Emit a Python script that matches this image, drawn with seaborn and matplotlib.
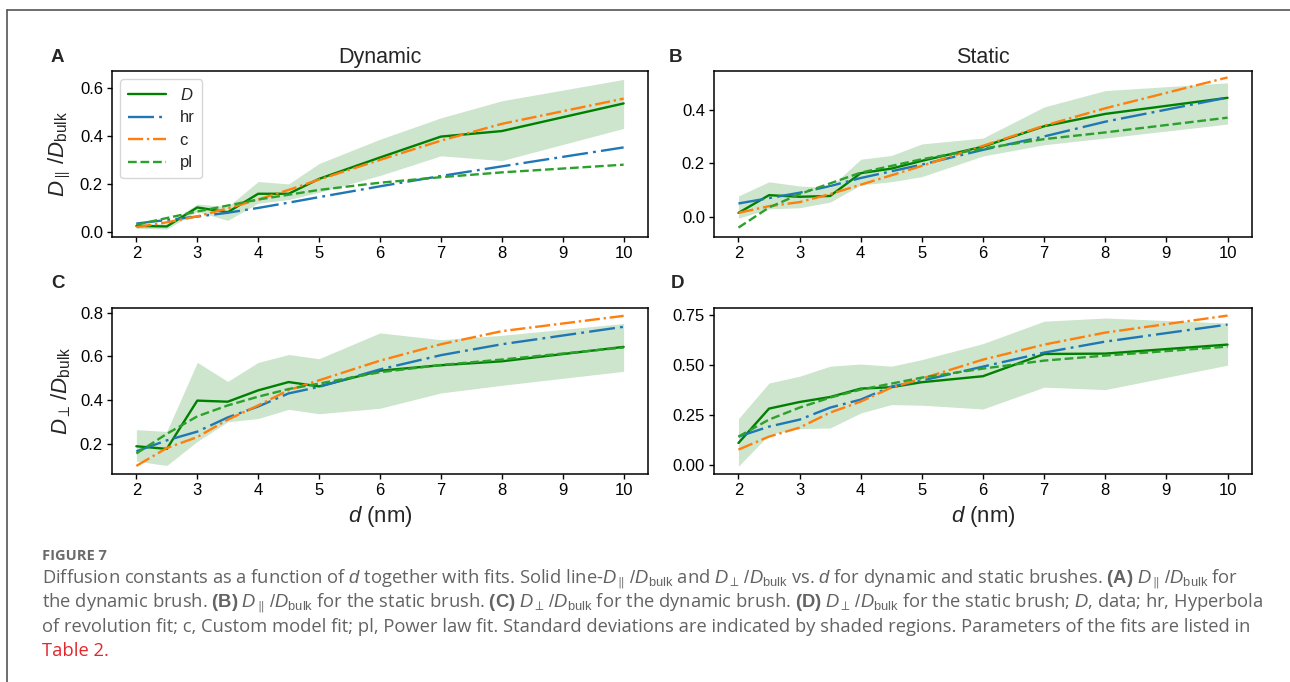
import matplotlib
matplotlib.use("Agg")
import matplotlib.pyplot as plt
from matplotlib.lines import Line2D
import seaborn as sns
import numpy as np

# ---------------- data ----------------
d_nm = [2, 2.5, 3, 3.5, 4, 4.5, 5, 6, 7, 8, 10]

# (A) dynamic, parallel
A_D = [0.025, 0.023, 0.102, 0.082, 0.159, 0.159, 0.221, 0.31, 0.397, 0.42, 0.535]
A_lo = [0.015, 0.012, 0.085, 0.048, 0.12, 0.135, 0.165, 0.235, 0.317, 0.297, 0.431]
A_hi = [0.035, 0.034, 0.116, 0.105, 0.21, 0.2, 0.285, 0.386, 0.475, 0.546, 0.635]
A_hr = [0.035, 0.05, 0.064, 0.08, 0.10, 0.122, 0.145, 0.19, 0.233, 0.273, 0.352]
A_c = [0.02, 0.04, 0.065, 0.098, 0.135, 0.175, 0.218, 0.30, 0.38, 0.45, 0.555]
A_pl = [0.03, 0.058, 0.085, 0.11, 0.135, 0.155, 0.175, 0.205, 0.228, 0.248, 0.28]

# (B) static, parallel
B_D = [0.015, 0.081, 0.075, 0.078, 0.163, 0.18, 0.209, 0.262, 0.338, 0.384, 0.444]
B_lo = [-0.005, 0.03, 0.034, 0.055, 0.119, 0.131, 0.15, 0.227, 0.269, 0.294, 0.346]
B_hi = [0.078, 0.131, 0.115, 0.11, 0.215, 0.229, 0.272, 0.294, 0.41, 0.471, 0.50]
B_hr = [0.05, 0.07, 0.09, 0.115, 0.145, 0.17, 0.195, 0.25, 0.30, 0.355, 0.445]
B_c = [0.015, 0.04, 0.055, 0.085, 0.12, 0.155, 0.19, 0.265, 0.34, 0.405, 0.52]
B_pl = [-0.04, 0.035, 0.085, 0.125, 0.165, 0.19, 0.215, 0.255, 0.29, 0.315, 0.37]

# (C) dynamic, perpendicular
C_D = [0.188, 0.176, 0.397, 0.392, 0.444, 0.482, 0.462, 0.534, 0.559, 0.577, 0.643]
C_lo = [0.12, 0.10, 0.21, 0.30, 0.315, 0.357, 0.337, 0.362, 0.432, 0.467, 0.531]
C_hi = [0.264, 0.256, 0.572, 0.485, 0.572, 0.608, 0.589, 0.707, 0.676, 0.696, 0.75]
C_hr = [0.165, 0.215, 0.255, 0.32, 0.37, 0.43, 0.46, 0.54, 0.605, 0.655, 0.735]
C_c = [0.098, 0.18, 0.23, 0.31, 0.375, 0.445, 0.49, 0.58, 0.655, 0.715, 0.785]
C_pl = [0.155, 0.245, 0.325, 0.375, 0.415, 0.45, 0.475, 0.527, 0.56, 0.585, 0.64]

# (D) static, perpendicular
D_D = [0.108, 0.28, 0.313, 0.338, 0.38, 0.387, 0.412, 0.442, 0.553, 0.555, 0.60]
D_lo = [-0.008, 0.15, 0.18, 0.183, 0.258, 0.30, 0.297, 0.278, 0.387, 0.375, 0.497]
D_hi = [0.23, 0.408, 0.442, 0.492, 0.503, 0.492, 0.525, 0.605, 0.717, 0.733, 0.708]
D_hr = [0.14, 0.19, 0.225, 0.285, 0.325, 0.39, 0.42, 0.49, 0.56, 0.615, 0.70]
D_c = [0.075, 0.14, 0.185, 0.26, 0.315, 0.385, 0.43, 0.525, 0.6, 0.66, 0.745]
D_pl = [0.14, 0.225, 0.285, 0.335, 0.375, 0.405, 0.435, 0.48, 0.52, 0.545, 0.59]

x_ticks = [2, 3, 4, 5, 6, 7, 8, 9, 10]
A_yticks = [0.0, 0.2, 0.4, 0.6]
B_yticks = [0.0, 0.2, 0.4]
C_yticks = [0.2, 0.4, 0.6, 0.8]
D_yticks = [0.00, 0.25, 0.50, 0.75]

legend_labels = ["$D$", "hr", "c", "pl"]
panel_letters = ["A", "B", "C", "D"]
col_titles = ["Dynamic", "Static"]
ylabel_par = r"$D_{\parallel}\,/D_{\mathrm{bulk}}$"
ylabel_perp = r"$D_{\perp}\,/D_{\mathrm{bulk}}$"
xlabel = r"$d$ (nm)"

caption_head = "FIGURE 7"
caption_lines = [
    r"Diffusion constants as a function of $d$ together with fits. Solid line-$D_{\parallel}\,/D_{\mathrm{bulk}}$ and $D_{\perp}\,/D_{\mathrm{bulk}}$ vs. $d$ for dynamic and static brushes. $\mathbf{(A)}$ $D_{\parallel}\,/D_{\mathrm{bulk}}$ for",
    r"the dynamic brush. $\mathbf{(B)}$ $D_{\parallel}\,/D_{\mathrm{bulk}}$ for the static brush. $\mathbf{(C)}$ $D_{\perp}\,/D_{\mathrm{bulk}}$ for the dynamic brush. $\mathbf{(D)}$ $D_{\perp}\,/D_{\mathrm{bulk}}$ for the static brush; $D$, data; hr, Hyperbola",
    r"of revolution fit; c, Custom model fit; pl, Power law fit. Standard deviations are indicated by shaded regions. Parameters of the fits are listed in",
]
caption_link = "Table 2."

# ---------------- style ----------------
sns.set_style("ticks")
plt.rcParams["font.family"] = ["Liberation Sans", "DejaVu Sans"]
plt.rcParams["mathtext.fontset"] = "custom"
plt.rcParams["mathtext.rm"] = "Liberation Sans"
plt.rcParams["mathtext.it"] = "Liberation Sans:italic"
plt.rcParams["mathtext.bf"] = "Liberation Sans:bold"
plt.rcParams["axes.edgecolor"] = "black"
plt.rcParams["axes.linewidth"] = 1.1
plt.rcParams["xtick.color"] = "black"
plt.rcParams["ytick.color"] = "black"
plt.rcParams["xtick.major.size"] = 3.5
plt.rcParams["ytick.major.size"] = 3.5
plt.rcParams["xtick.major.width"] = 1.0
plt.rcParams["ytick.major.width"] = 1.0

W, H = 1290, 682
fig = plt.figure(figsize=(W / 100, H / 100), dpi=100)


def rect(l, t, r, b):
    return [l / W, 1 - b / H, (r - l) / W, (b - t) / H]


axA = fig.add_axes(rect(112, 71, 648, 237))
axB = fig.add_axes(rect(714, 71, 1252, 237))
axC = fig.add_axes(rect(112, 308, 648, 474))
axD = fig.add_axes(rect(714, 308, 1252, 474))

panels = [
    (axA, A_D, A_lo, A_hi, A_hr, A_c, A_pl, A_yticks, (-0.021, 0.67)),
    (axB, B_D, B_lo, B_hi, B_hr, B_c, B_pl, B_yticks, (-0.075, 0.544)),
    (axC, C_D, C_lo, C_hi, C_hr, C_c, C_pl, C_yticks, (0.061, 0.821)),
    (axD, D_D, D_lo, D_hi, D_hr, D_c, D_pl, D_yticks, (-0.047, 0.783)),
]

lw = 1.7
for ax, yD, ylo, yhi, yhr, yc, ypl, yt, ylim in panels:
    ax.fill_between(d_nm, ylo, yhi, color="green", alpha=0.2, linewidth=0)
    sns.lineplot(x=d_nm, y=yD, ax=ax, color="green", lw=lw, linestyle="-",
                 errorbar=None, label=legend_labels[0])
    sns.lineplot(x=d_nm, y=yhr, ax=ax, color="#1f77b4", lw=lw,
                 linestyle=(0, (11, 2.2, 1.2, 2.2)), errorbar=None,
                 label=legend_labels[1])
    sns.lineplot(x=d_nm, y=yc, ax=ax, color="#ff7f0e", lw=lw, linestyle="-.",
                 errorbar=None, label=legend_labels[2])
    sns.lineplot(x=d_nm, y=ypl, ax=ax, color="#2ca02c", lw=lw, linestyle="--",
                 errorbar=None, label=legend_labels[3])
    ax.set_xlim(1.6, 10.4)
    ax.set_ylim(*ylim)
    ax.set_xticks(x_ticks)
    ax.set_yticks(yt)
    if ax is axD:
        ax.set_yticklabels([f"{v:.2f}" for v in yt])
    else:
        ax.set_yticklabels([f"{v:.1f}" for v in yt])
    ax.tick_params(labelsize=12, pad=3)
    ax.set_xlabel("")
    ax.set_ylabel("")
    for s in ax.spines.values():
        s.set_visible(True)
        s.set_color("black")
    leg = ax.get_legend()
    if leg is not None:
        leg.remove()

axA.legend(loc="upper left", fontsize=12, handlelength=2.3,
           labelspacing=0.45, borderpad=0.45, frameon=True, framealpha=0.8,
           edgecolor="0.8", fancybox=True)

axA.set_title(col_titles[0], fontsize=15.5, pad=6)
axB.set_title(col_titles[1], fontsize=15.5, pad=6)
axA.set_ylabel(ylabel_par, fontsize=16, labelpad=5)
axC.set_ylabel(ylabel_perp, fontsize=16, labelpad=5)
axC.set_xlabel(xlabel, fontsize=16, labelpad=4)
axD.set_xlabel(xlabel, fontsize=16, labelpad=4)

for letter, (px, py) in zip(panel_letters, [(57, 57), (676, 57), (58, 283), (677, 283)]):
    fig.text(px / W, 1 - py / H, letter, fontsize=13.5, fontweight="bold",
             ha="center", va="center")

# frame lines
fig.add_artist(Line2D([7 / W, 1.0], [1 - 10 / H, 1 - 10 / H],
                      transform=fig.transFigure, color="#555555", lw=1.2))
fig.add_artist(Line2D([7 / W, 7 / W], [1 - 10 / H, 0.0],
                      transform=fig.transFigure, color="#555555", lw=1.2))

# caption
cap_color = "#636363"
cap_font = ["Open Sans", "DejaVu Sans"]
fig.text(42 / W, 1 - 560 / H, caption_head, fontsize=10.5, fontweight="bold",
         color="#6b6b6b", family=cap_font, ha="left", va="baseline")

base_fs = 12.0
t1 = fig.text(42 / W, 1 - 584 / H, caption_lines[0], fontsize=base_fs,
              color=cap_color, family=cap_font, ha="left", va="baseline")
fig.canvas.draw()
w1 = t1.get_window_extent().width
fs = base_fs * (1234 - 42) / w1
t1.set_fontsize(fs)
for i, line in enumerate(caption_lines[1:]):
    fig.text(42 / W, 1 - (608 + 24 * i) / H, line, fontsize=fs,
             color=cap_color, family=cap_font, ha="left", va="baseline")
fig.text(42 / W, 1 - 656 / H, caption_link, fontsize=fs, color="#e0282e",
         family=cap_font, ha="left", va="baseline")

fig.savefig("out.png", dpi=100)
